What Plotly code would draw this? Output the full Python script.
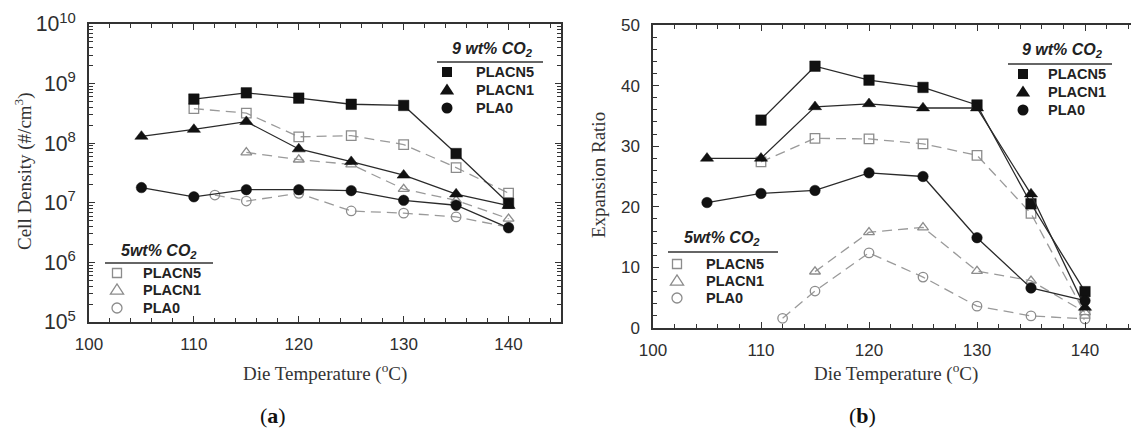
import plotly.graph_objects as go

# ---------------- data ----------------
temp_9 = [105, 110, 115, 120, 125, 130, 135, 140]

# Cell density (#/cm^3), 9 wt% CO2
cd9_placn5 = [None, 5.5e8, 7.0e8, 5.7e8, 4.5e8, 4.3e8, 6.7e7, 9.8e6]
cd9_placn1 = [1.3e8, 1.7e8, 2.3e8, 8.0e7, 4.9e7, 2.9e7, 1.4e7, 9.0e6]
cd9_pla0 = [1.8e7, 1.26e7, 1.66e7, 1.66e7, 1.6e7, 1.1e7, 9.1e6, 3.8e6]

# Cell density (#/cm^3), 5 wt% CO2
temp_5_cn5 = [110, 115, 120, 125, 130, 135, 140]
cd5_placn5 = [3.8e8, 3.2e8, 1.28e8, 1.34e8, 9.5e7, 3.9e7, 1.45e7]
temp_5_cn1 = [115, 120, 125, 130, 135, 140]
cd5_placn1 = [7.0e7, 5.3e7, 4.4e7, 1.7e7, 1.1e7, 5.4e6]
temp_5_pla0 = [112, 115, 120, 125, 130, 135, 140]
cd5_pla0 = [1.35e7, 1.07e7, 1.44e7, 7.3e6, 6.7e6, 5.8e6, 3.9e6]

# Expansion ratio, 9 wt% CO2
er9_placn5 = [None, 34.3, 43.2, 40.9, 39.7, 36.8, 20.5, 6.0]
er9_placn1 = [28.0, 28.0, 36.5, 37.0, 36.3, 36.3, 22.1, 3.4]
er9_pla0 = [20.7, 22.2, 22.7, 25.6, 25.0, 14.9, 6.6, 4.5]

# Expansion ratio, 5 wt% CO2
er5_placn5 = [27.4, 31.3, 31.2, 30.4, 28.5, 18.9, 2.4]
er5_placn1 = [9.3, 15.8, 16.6, 9.4, 7.8, 2.6]
er5_pla0 = [1.6, 6.1, 12.4, 8.4, 3.6, 2.0, 1.5]

series_names = ["PLACN5", "PLACN1", "PLA0"]
legend_title_9 = "<b><i>9 wt% CO<sub>2</sub></i></b>"
legend_title_5 = "<b><i>5wt% CO<sub>2</sub></i></b>"
x_title = "Die Temperature (<sup>o</sup>C)"
y_title_a = "Cell Density (#/cm<sup>3</sup>)"
y_title_b = "Expansion Ratio"

# ---------------- styling ----------------
W, H = 1131, 428
AX = "#333333"
BLACK = "#111111"
GREY = "#8c8c8c"
TICK_FONT = dict(family="Liberation Sans, Arial, sans-serif", size=17, color="#2e2e2e")
TITLE_FONT = dict(family="Liberation Serif, Times New Roman, serif", size=19, color=AX)
LEG_FONT = dict(family="Liberation Sans, Arial, sans-serif", size=14.5, color="#222")


def px(x):
    return x / W


def py(y):
    return 1 - y / H


fig = go.Figure()


def add_series(x, y, symbol, filled, xa, ya):
    if filled:
        size = 11.5 if symbol.startswith("triangle") else 10.5
        marker = dict(symbol=symbol, size=size, color=BLACK,
                      line=dict(color=BLACK, width=0.5))
        line = dict(color="#2a2a2a", width=1.3)
    else:
        marker = dict(symbol=symbol + "-open", size=9.5, color=GREY,
                      line=dict(color=GREY, width=1.3))
        line = dict(color="#9a9a9a", width=1.3, dash="10px,6px")
    fig.add_trace(go.Scatter(x=x, y=y, mode="lines+markers", marker=marker,
                             line=line, xaxis=xa, yaxis=ya, showlegend=False,
                             connectgaps=False, cliponaxis=False))


# panel (a)
add_series(temp_5_cn5, cd5_placn5, "square", False, "x", "y")
add_series(temp_5_cn1, cd5_placn1, "triangle-up", False, "x", "y")
add_series(temp_5_pla0, cd5_pla0, "circle", False, "x", "y")
add_series(temp_9, cd9_placn5, "square", True, "x", "y")
add_series(temp_9, cd9_placn1, "triangle-up", True, "x", "y")
add_series(temp_9, cd9_pla0, "circle", True, "x", "y")

# panel (b)
add_series(temp_5_cn5, er5_placn5, "square", False, "x2", "y2")
add_series(temp_5_cn1, er5_placn1, "triangle-up", False, "x2", "y2")
add_series(temp_5_pla0, er5_pla0, "circle", False, "x2", "y2")
add_series(temp_9, er9_placn5, "square", True, "x2", "y2")
add_series(temp_9, er9_placn1, "triangle-up", True, "x2", "y2")
add_series(temp_9, er9_pla0, "circle", True, "x2", "y2")

common_axis = dict(showline=True, linecolor=AX, linewidth=1.5, ticks="inside",
                   ticklen=6, tickwidth=1.2, tickcolor=AX, tickfont=TICK_FONT,
                   showgrid=False, zeroline=False, automargin=False)
minor_ticks = dict(ticks="inside", ticklen=4, tickwidth=1, tickcolor=AX, showgrid=False)

fig.update_layout(
    width=W, height=H, margin=dict(l=0, r=0, t=0, b=0, autoexpand=False),
    paper_bgcolor="white", plot_bgcolor="white", showlegend=False,
    xaxis=dict(domain=[px(89), px(561)], range=[100, 145], dtick=10, tick0=100,
               mirror="ticks", ticklabelstandoff=6, anchor="y",
               minor=dict(dtick=2, **minor_ticks), **common_axis),
    yaxis=dict(domain=[py(322), py(24)], type="log", range=[5, 10], dtick=1,
               exponentformat="power", mirror="ticks", ticklabelstandoff=8, anchor="x",
               minor=dict(dtick="D1", **minor_ticks), **common_axis),
    xaxis2=dict(domain=[px(653), 1.0], range=[100, 100 + (W - 653) / 10.8], dtick=10,
                tick0=100, mirror="ticks", ticklabelstandoff=6, anchor="y2",
                minor=dict(dtick=2, **minor_ticks), **common_axis),
    yaxis2=dict(domain=[py(328), py(25)], range=[0, 50], dtick=10, mirror=False,
                ticklabelstandoff=8, anchor="x2",
                minor=dict(dtick=2, **minor_ticks), **common_axis),
)

annotations = []
shapes = []


def text(x, y, s, font, xanchor="center", **kw):
    d = dict(x=px(x), y=py(y), xref="paper", yref="paper", text=s, showarrow=False,
             font=font, xanchor=xanchor, yanchor="middle")
    d.update(kw)
    annotations.append(d)


# axis titles
text(23, 171, y_title_a, TITLE_FONT, textangle=-90)
text(598, 175, y_title_b, TITLE_FONT, textangle=-90)
text(325, 372, x_title, TITLE_FONT)
text(896, 372, x_title, TITLE_FONT)

# panel captions
CAP = dict(family="Liberation Serif, serif", size=22, color="#111")
text(273, 415, "(<b>a</b>)", CAP)
text(862, 415, "(<b>b</b>)", CAP)


def key_shape(cx, cy, kind, filled):
    color = BLACK if filled else GREY
    base = dict(xref="paper", yref="paper", xsizemode="pixel", ysizemode="pixel",
                xanchor=px(cx), yanchor=py(cy),
                line=dict(color=color, width=0 if filled else 1.3),
                fillcolor=color if filled else "rgba(0,0,0,0)")
    s = 5 if filled else 4.5
    if kind == "square":
        base.update(type="rect", x0=-s, x1=s, y0=-s, y1=s)
    elif kind == "circle":
        base.update(type="circle", x0=-s - 0.5, x1=s + 0.5, y0=-s - 0.5, y1=s + 0.5)
    else:
        h = s + 1.5
        base.update(type="path",
                    path=f"M {-h*1.1:.2f},{-h*0.7:.2f} L {h*1.1:.2f},{-h*0.7:.2f} L 0,{h:.2f} Z")
    shapes.append(base)


def legend_block(title, cx_title, ty, ux0, ux1, uy, mx, tx, rows, filled):
    text(cx_title, ty, title, dict(family="Liberation Sans, Arial, sans-serif",
                                    size=16, color="#222"))
    shapes.append(dict(type="line", xref="paper", yref="paper", x0=px(ux0), x1=px(ux1),
                       y0=py(uy), y1=py(uy), line=dict(color="#333", width=1.5)))
    for name, kind, ry in zip(series_names, ["square", "triangle", "circle"], rows):
        key_shape(mx, ry, kind, filled)
        text(tx, ry, f"<b>{name}</b>", LEG_FONT, xanchor="left")


legend_block(legend_title_9, 492, 50, 437, 543, 62, 447, 474, [72, 90, 108], True)
legend_block(legend_title_5, 159, 252, 105, 213, 263, 117, 141, [273, 290, 308], False)
legend_block(legend_title_9, 1062, 51, 1008, 1112, 64, 1023, 1046, [74, 92, 110], True)
legend_block(legend_title_5, 722, 238, 668, 778, 252, 677, 704, [264, 281, 298], False)

fig.update_layout(annotations=annotations, shapes=shapes)

fig.write_html("out.html")
